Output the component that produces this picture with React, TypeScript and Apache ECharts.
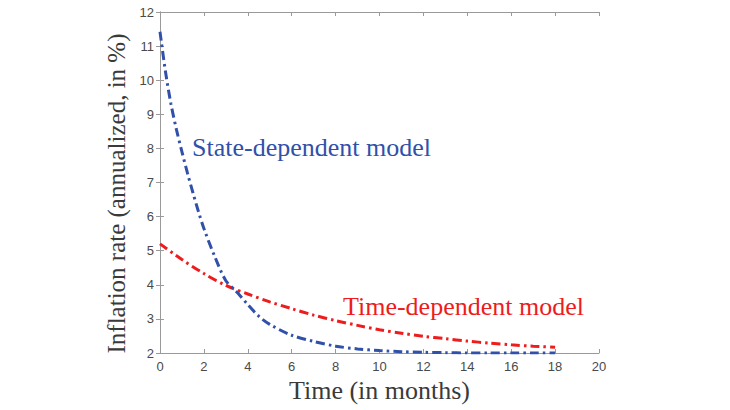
import { useEffect, useRef } from 'react'
import * as echarts from 'echarts'

// time in months and inflation rate
const stateMonths = [0, 0.25, 0.5, 0.75, 1, 1.25, 1.5, 1.75, 2, 2.5, 3, 3.5, 4, 4.5, 5, 6, 7, 8, 9, 10, 11, 12, 13, 14, 15, 16, 17, 18]
const stateRate = [11.42, 10.25, 9.3, 8.55, 7.9, 7.28, 6.7, 6.15, 5.65, 4.82, 4.12, 3.79, 3.42, 3.08, 2.84, 2.52, 2.34, 2.2, 2.12, 2.07, 2.04, 2.02, 2.01, 2.0, 2.0, 2.0, 2.0, 2.0]

const timeMonths = [0, 1, 2, 3, 4, 5, 6, 7, 8, 9, 10, 11, 12, 13, 14, 15, 16, 17, 18]
const timeRate = [5.2, 4.74, 4.33, 3.98, 3.73, 3.5, 3.3, 3.11, 2.95, 2.81, 2.68, 2.58, 2.49, 2.42, 2.35, 2.29, 2.24, 2.2, 2.17]

const blue = '#3050aa'
const red = '#ee1c1c'
const serif = 'Liberation Serif'
const dashDot = [9, 4, 2.5, 4]

export default function App() {
  const chartRef = useRef<HTMLDivElement>(null)

  useEffect(() => {
    if (!chartRef.current) return
    const chart = echarts.init(chartRef.current, null, { renderer: 'svg' })

    const axisLine = { show: true, lineStyle: { color: '#9a9a9a', width: 1 } }
    const tick = { show: true, inside: true, length: 4, lineStyle: { color: '#9a9a9a' } }
    const tickLabel = { color: '#4a4a4a', fontSize: 13, fontFamily: 'Liberation Sans' }
    const titleStyle = { color: '#3a3a3a', fontSize: 26, fontFamily: serif, fontWeight: 'normal' as const }

    chart.setOption({
      animation: false,
      title: [
        {
          text: 'State-dependent model',
          left: 192,
          top: 134,
          padding: 0,
          textStyle: { ...titleStyle, color: blue },
        },
        {
          text: 'Time-dependent model',
          left: 343,
          top: 293,
          padding: 0,
          textStyle: { ...titleStyle, color: red },
        },
      ],
      grid: { left: 160, right: 131, top: 12, bottom: 57, outerBoundsMode: 'none', containLabel: false },
      xAxis: [
        {
          type: 'value',
          min: 0,
          max: 20,
          interval: 2,
          name: 'Time (in months)',
          nameLocation: 'middle',
          nameGap: 23,
          nameTextStyle: titleStyle,
          axisLine,
          axisTick: tick,
          axisLabel: { ...tickLabel, margin: 7 },
          splitLine: { show: false },
        },
        {
          type: 'value',
          position: 'top',
          min: 0,
          max: 20,
          interval: 2,
          axisLine,
          axisTick: tick,
          axisLabel: { show: false },
          splitLine: { show: false },
        },
      ],
      yAxis: [
        {
          type: 'value',
          min: 2,
          max: 12,
          interval: 1,
          name: 'Inflation rate (annualized, in %)',
          nameLocation: 'middle',
          nameGap: 20,
          nameTextStyle: { ...titleStyle, fontSize: 25, padding: [0, 22, 0, 0] },
          axisLine,
          axisTick: tick,
          axisLabel: { ...tickLabel, margin: 6 },
          splitLine: { show: false },
        },
        {
          type: 'value',
          position: 'right',
          min: 2,
          max: 12,
          interval: 1,
          axisLine,
          axisTick: tick,
          axisLabel: { show: false },
          splitLine: { show: false },
        },
      ],
      series: [
        {
          name: 'Time-dependent model',
          type: 'line',
          data: timeMonths.map((t, i) => [t, timeRate[i]]),
          smooth: 0.3,
          showSymbol: false,
          lineStyle: { color: red, width: 3, type: dashDot },
        },
        {
          name: 'State-dependent model',
          type: 'line',
          data: stateMonths.map((t, i) => [t, stateRate[i]]),
          smooth: 0.3,
          showSymbol: false,
          lineStyle: { color: blue, width: 3, type: dashDot },
        },
      ],
    })

    return () => {
      chart.dispose()
    }
  }, [])

  return (
    <div
      ref={chartRef}
      style={{ position: 'fixed', left: 0, top: 0, width: '730px', height: '410px', background: '#fff' }}
    />
  )
}
